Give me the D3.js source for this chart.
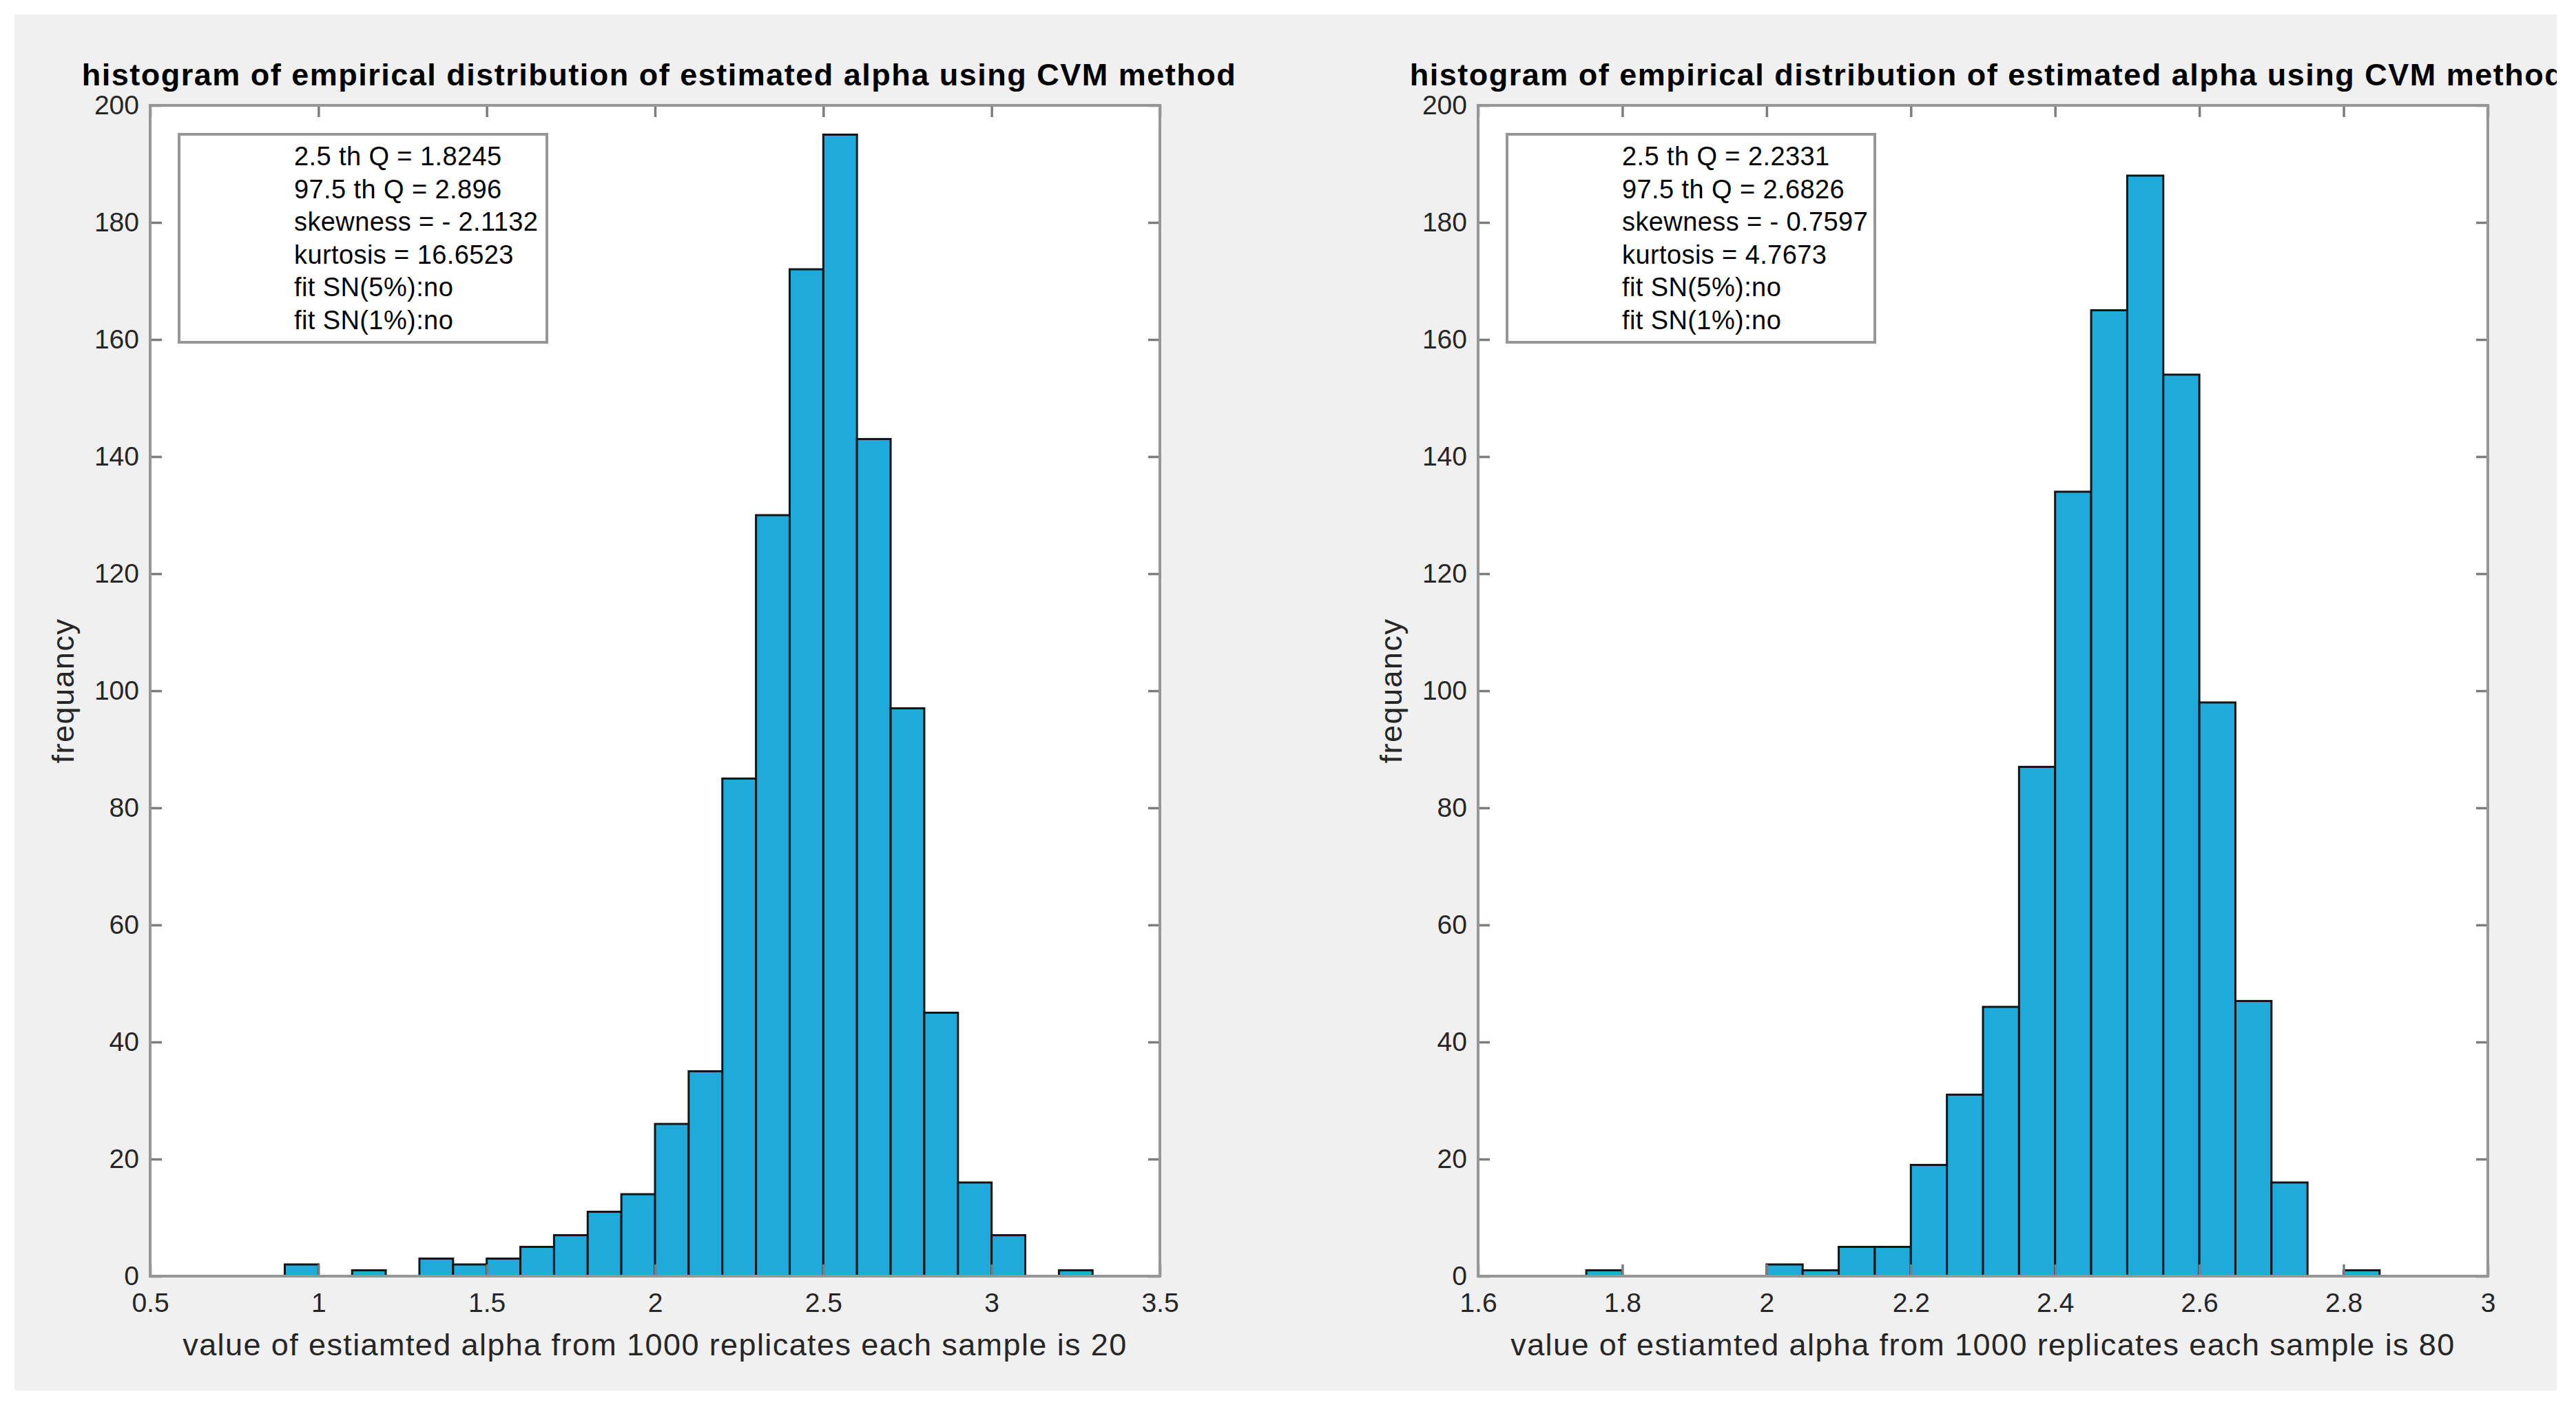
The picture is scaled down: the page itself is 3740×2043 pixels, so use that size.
<!DOCTYPE html>
<html>
<head>
<meta charset="utf-8">
<script src="https://cdn.jsdelivr.net/npm/d3@7"></script>
<style>
  html, body { margin: 0; padding: 0; background: #ffffff; }
  svg { display: block; }
</style>
</head>
<body>
<div id="chart"></div>
<script>
// histogram data
const leftBinEdges = [0.9, 1.0, 1.1, 1.2, 1.3, 1.4, 1.5, 1.6, 1.7, 1.8, 1.9, 2.0, 2.1, 2.2, 2.3, 2.4, 2.5, 2.6, 2.7, 2.8, 2.9, 3.0, 3.1, 3.2, 3.3];
const leftCounts = [2, 0, 1, 0, 3, 2, 3, 5, 7, 11, 14, 26, 35, 85, 130, 172, 195, 143, 97, 45, 16, 7, 0, 1];
const leftXTicks = [0.5, 1, 1.5, 2, 2.5, 3, 3.5];
const leftStats = ['2.5 th Q = 1.8245', '97.5 th Q = 2.896', 'skewness = - 2.1132', 'kurtosis = 16.6523', 'fit SN(5%):no', 'fit SN(1%):no'];

const rightBinEdges = [1.75, 1.8, 1.85, 1.9, 1.95, 2.0, 2.05, 2.1, 2.15, 2.2, 2.25, 2.3, 2.35, 2.4, 2.45, 2.5, 2.55, 2.6, 2.65, 2.7, 2.75, 2.8, 2.85];
const rightCounts = [1, 0, 0, 0, 0, 2, 1, 5, 5, 19, 31, 46, 87, 134, 165, 188, 154, 98, 47, 16, 0, 1];
const rightXTicks = [1.6, 1.8, 2, 2.2, 2.4, 2.6, 2.8, 3];
const rightStats = ['2.5 th Q = 2.2331', '97.5 th Q = 2.6826', 'skewness = - 0.7597', 'kurtosis = 4.7673', 'fit SN(5%):no', 'fit SN(1%):no'];

const yTicks = [0, 20, 40, 60, 80, 100, 120, 140, 160, 180, 200];
const titleText = 'histogram of empirical distribution of estimated alpha using CVM method';
const yLabelText = 'frequancy';

const width = 3740;
const height = 2043;
const font = '"Liberation Sans", Arial, Helvetica, sans-serif';

const svg = d3.select('#chart')
  .append('svg')
  .attr('width', width)
  .attr('height', height);

// figure background
svg.append('rect').attr('width', width).attr('height', height).attr('fill', '#ffffff');
svg.append('rect')
  .attr('x', 21).attr('y', 21)
  .attr('width', 3712 - 21).attr('height', 2019 - 21)
  .attr('fill', '#f0f0f0');

svg.append('clipPath').attr('id', 'figclip')
  .append('rect')
  .attr('x', 21).attr('y', 21)
  .attr('width', 3712 - 21).attr('height', 2019 - 21);

const panels = [
  { left: 218, right: 1684, domain: [0.5, 3.5], xTicks: leftXTicks, edges: leftBinEdges, counts: leftCounts,
    stats: leftStats, xlabel: 'value of estiamted alpha from 1000 replicates each sample is 20' },
  { left: 2146, right: 3612, domain: [1.6, 3], xTicks: rightXTicks, edges: rightBinEdges, counts: rightCounts,
    stats: rightStats, xlabel: 'value of estiamted alpha from 1000 replicates each sample is 80' }
];

const axTop = 153;
const axBottom = 1853;
const tickLen = 17;

panels.forEach(p => {
  const x = d3.scaleLinear().domain(p.domain).range([p.left, p.right]);
  const y = d3.scaleLinear().domain([0, 200]).range([axBottom, axTop]);
  const g = svg.append('g');

  // axes background
  g.append('rect')
    .attr('x', p.left).attr('y', axTop)
    .attr('width', p.right - p.left).attr('height', axBottom - axTop)
    .attr('fill', '#ffffff');

  // bars
  const bins = p.counts.map((c, i) => ({ x0: p.edges[i], x1: p.edges[i + 1], count: c }))
    .filter(d => d.count > 0);
  g.selectAll('.bar')
    .data(bins)
    .enter().append('rect')
    .attr('class', 'bar')
    .attr('x', d => x(d.x0))
    .attr('y', d => y(d.count))
    .attr('width', d => x(d.x1) - x(d.x0))
    .attr('height', d => y(0) - y(d.count))
    .attr('fill', '#1eaadb')
    .attr('stroke', '#151515')
    .attr('stroke-width', 3);

  // axes with inward ticks
  const xb = g.append('g')
    .attr('transform', `translate(0,${axBottom})`)
    .call(d3.axisBottom(x).tickValues(p.xTicks).tickSizeInner(-tickLen).tickSizeOuter(0).tickPadding(24)
      .tickFormat(d3.format('')));
  const xt = g.append('g')
    .attr('transform', `translate(0,${axTop})`)
    .call(d3.axisTop(x).tickValues(p.xTicks).tickSizeInner(-tickLen).tickSizeOuter(0).tickFormat(''));
  const yl = g.append('g')
    .attr('transform', `translate(${p.left},0)`)
    .call(d3.axisLeft(y).tickValues(yTicks).tickSizeInner(-tickLen).tickSizeOuter(0).tickPadding(16));
  const yr = g.append('g')
    .attr('transform', `translate(${p.right},0)`)
    .call(d3.axisRight(y).tickValues(yTicks).tickSizeInner(-tickLen).tickSizeOuter(0).tickFormat(''));

  [xb, xt, yl, yr].forEach(a => {
    a.select('.domain').remove();
    a.selectAll('.tick line').attr('stroke', '#7d7d7d').attr('stroke-width', 3.5);
    a.selectAll('.tick text')
      .attr('fill', '#262626')
      .style('font-family', font)
      .style('font-size', '39px');
  });

  // axes box
  g.append('rect')
    .attr('x', p.left).attr('y', axTop)
    .attr('width', p.right - p.left).attr('height', axBottom - axTop)
    .attr('fill', 'none')
    .attr('stroke', '#969696')
    .attr('stroke-width', 4);

  // title (clipped by the figure edge on the right panel)
  svg.append('text')
    .attr('clip-path', 'url(#figclip)')
    .attr('x', (p.left + p.right) / 2 + 6)
    .attr('y', 124)
    .attr('text-anchor', 'middle')
    .attr('fill', '#000000')
    .style('font-family', font)
    .style('font-size', '45px')
    .style('letter-spacing', '1.5px')
    .style('font-weight', 'bold')
    .text(titleText);

  // x label
  g.append('text')
    .attr('x', (p.left + p.right) / 2)
    .attr('y', 1968)
    .attr('text-anchor', 'middle')
    .attr('fill', '#262626')
    .style('font-family', font)
    .style('font-size', '45px')
    .style('letter-spacing', '1.4px')
    .text(p.xlabel);

  // y label
  g.append('text')
    .attr('transform', `translate(${p.left - 111},${(axTop + axBottom) / 2}) rotate(-90)`)
    .attr('text-anchor', 'middle')
    .attr('fill', '#262626')
    .style('font-family', font)
    .style('font-size', '45px')
    .style('letter-spacing', '1.5px')
    .text(yLabelText);

  // stats text box
  const boxX = p.left + 42;
  g.append('rect')
    .attr('x', boxX).attr('y', 195)
    .attr('width', 534).attr('height', 302)
    .attr('fill', '#ffffff')
    .attr('stroke', '#969696')
    .attr('stroke-width', 4);
  g.selectAll('.stat')
    .data(p.stats)
    .enter().append('text')
    .attr('class', 'stat')
    .attr('x', boxX + 167)
    .attr('y', (d, i) => 240 + i * 47.6)
    .attr('fill', '#000000')
    .style('font-family', font)
    .style('font-size', '38px')
    .style('letter-spacing', '0.4px')
    .text(d => d);
});
</script>
</body>
</html>
